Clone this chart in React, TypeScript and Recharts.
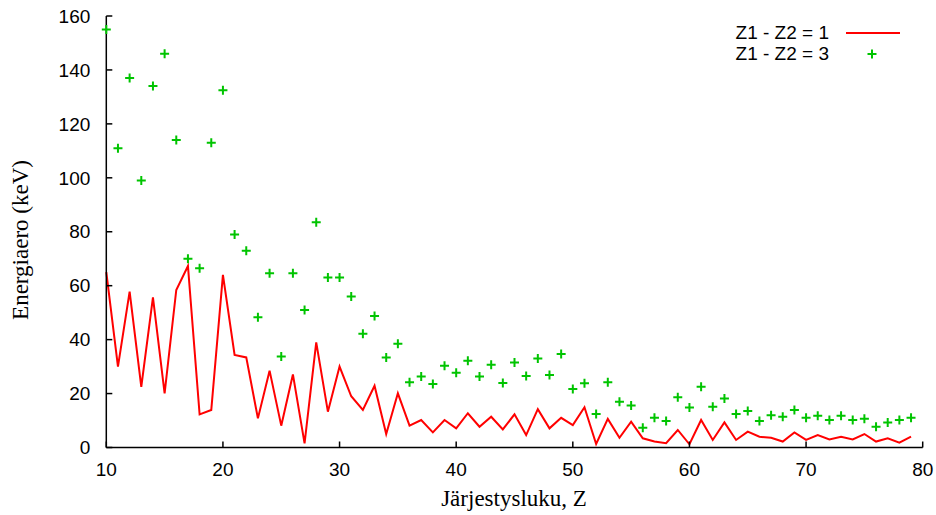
import React from "react";
import { ComposedChart, Line, XAxis, YAxis, Legend } from "recharts";

// atomic number Z (x axis)
const Z = [
  10, 11, 12, 13, 14, 15, 16, 17, 18, 19,
  20, 21, 22, 23, 24, 25, 26, 27, 28, 29,
  30, 31, 32, 33, 34, 35, 36, 37, 38, 39,
  40, 41, 42, 43, 44, 45, 46, 47, 48, 49,
  50, 51, 52, 53, 54, 55, 56, 57, 58, 59,
  60, 61, 62, 63, 64, 65, 66, 67, 68, 69,
  70, 71, 72, 73, 74, 75, 76, 77, 78, 79,
];

// energy difference (keV), Z1 - Z2 = 1
const DIFF1 = [
  65, 30, 57.8, 22.5, 55.7, 20.1, 58.4, 67.3, 12.3, 13.9,
  64, 34.3, 33.4, 10.8, 28.5, 8.1, 27.1, 1.5, 39, 13.3,
  30, 19, 13.9, 22.9, 5, 20.1, 8.1, 10.2, 5.6, 10.2,
  7.1, 12.7, 7.7, 11.4, 6.7, 12.3, 4.6, 14.2, 7.1, 11,
  8.3, 14.9, 1.3, 10.6, 3.6, 9.6, 3.4, 2.2, 1.6, 6.5,
  1.2, 10.2, 2.8, 9.3, 2.8, 5.9, 4, 3.6, 2.2, 5.6,
  2.8, 4.6, 3, 4, 3, 5, 2.2, 3.4, 1.8, 4,
];

// energy difference (keV), Z1 - Z2 = 3
const DIFF3 = [
  155, 111, 137, 99, 134, 146, 114, 70, 66.5, 113,
  132.5, 79, 73, 48.3, 64.6, 33.7, 64.6, 51, 83.5, 63,
  63, 56, 42.2, 48.8, 33.4, 38.5, 24.2, 26.3, 23.5, 30.3,
  27.7, 32.2, 26.3, 30.7, 23.9, 31.5, 26.5, 33, 26.9, 34.7,
  21.7, 23.8, 12.4, 24.2, 17, 15.6, 7.3, 11, 9.8, 18.6,
  14.8, 22.5, 15.1, 18.2, 12.4, 13.5, 9.8, 12, 11.4, 13.9,
  11, 11.8, 10.2, 11.8, 10.2, 10.7, 7.7, 9.3, 10.2, 11,
];

const X_TICKS = [10, 20, 30, 40, 50, 60, 70, 80];
const Y_TICKS = [0, 20, 40, 60, 80, 100, 120, 140, 160];

const SERIES = [
  { key: "d1", name: "Z1 - Z2 = 1", color: "#ff0000" },
  { key: "d3", name: "Z1 - Z2 = 3", color: "#00c400" },
];

const data = Z.map((z, i) => ({ z, d1: DIFF1[i], d3: DIFF3[i] }));

const SANS = "'Liberation Sans', Arial, sans-serif";
const SERIF = "'Liberation Serif', 'Times New Roman', serif";
const tickStyle = { fill: "#000", fontSize: 19, fontFamily: SANS };
const axisLine = { stroke: "#000", strokeWidth: 1.5 };

function Plus(props: any) {
  const { cx, cy, index } = props;
  if (cx == null || cy == null) return null;
  return (
    <path
      key={`p-${index}`}
      d={`M${cx - 4.5},${cy}H${cx + 4.5}M${cx},${cy - 4.5}V${cy + 4.5}`}
      stroke={SERIES[1].color}
      strokeWidth={2}
      fill="none"
    />
  );
}

function renderLegend() {
  return (
    <div style={{ position: "relative", width: 936, height: 70, fontFamily: SANS, fontSize: 19, color: "#000" }}>
      {SERIES.map((s, i) => (
        <div key={s.key}>
          <div style={{ position: "absolute", right: 107, top: 23 + i * 21, lineHeight: "20px", whiteSpace: "nowrap" }}>
            {s.name}
          </div>
          {i === 0 ? (
            <div style={{ position: "absolute", left: 846, top: 32, width: 54, height: 2, background: s.color }} />
          ) : (
            <svg style={{ position: "absolute", left: 866, top: 48 }} width={12} height={12}>
              <path d="M1.5,6H10.5M6,1.5V10.5" stroke={s.color} strokeWidth={2} />
            </svg>
          )}
        </div>
      ))}
    </div>
  );
}

export default function App() {
  return (
    <div style={{ position: "absolute", left: 0, top: 0, background: "#fff" }}>
      <ComposedChart width={936} height={515} data={data} margin={{ top: 16, right: 13.3, bottom: 7.5, left: 6.3 }}>
        <XAxis
          dataKey="z"
          type="number"
          domain={[10, 80]}
          ticks={X_TICKS}
          height={60}
          tickSize={-6}
          tickMargin={21.5}
          tick={tickStyle}
          axisLine={axisLine}
          tickLine={axisLine}
          label={{
            content: () => (
              <text x={514} y={506} textAnchor="middle" fontFamily={SERIF} fontSize={23} fill="#000">
                Järjestysluku, Z
              </text>
            ),
          }}
        />
        <XAxis
          xAxisId="top"
          orientation="top"
          dataKey="z"
          type="number"
          domain={[10, 80]}
          ticks={X_TICKS}
          height={0}
          tickSize={-6}
          tick={false}
          axisLine={axisLine}
          tickLine={axisLine}
        />
        <YAxis
          type="number"
          domain={[0, 160]}
          ticks={Y_TICKS}
          width={100}
          tickSize={-6}
          tickMargin={22}
          tick={tickStyle}
          axisLine={axisLine}
          tickLine={axisLine}
          label={{
            content: () => (
              <text
                x={28}
                y={240}
                transform="rotate(-90 28 240)"
                textAnchor="middle"
                fontFamily={SERIF}
                fontSize={23}
                fill="#000"
              >
                Energiaero (keV)
              </text>
            ),
          }}
        />
        <YAxis
          yAxisId="right"
          orientation="right"
          type="number"
          domain={[0, 160]}
          ticks={Y_TICKS}
          width={0}
          tickSize={-6}
          tick={false}
          axisLine={axisLine}
          tickLine={axisLine}
        />
        <Legend
          layout="horizontal"
          align="center"
          verticalAlign="middle"
          content={renderLegend}
          wrapperStyle={{ position: "absolute", left: 0, top: 0, width: 936, height: 70 }}
        />
        <Line
          dataKey="d1"
          name={SERIES[0].name}
          type="linear"
          stroke={SERIES[0].color}
          strokeWidth={2}
          dot={false}
          isAnimationActive={false}
        />
        <Line
          dataKey="d3"
          name={SERIES[1].name}
          type="linear"
          stroke="none"
          dot={Plus}
          activeDot={false}
          isAnimationActive={false}
        />
      </ComposedChart>
    </div>
  );
}
